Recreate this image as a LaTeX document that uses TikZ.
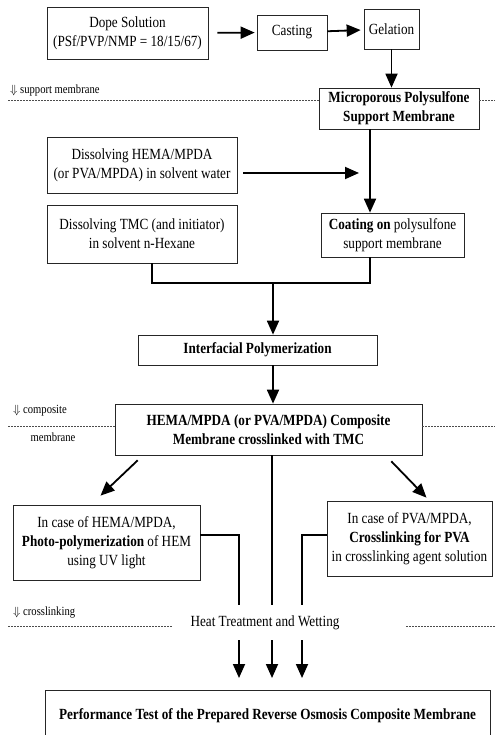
\documentclass[tikz,border=0pt]{standalone}
\usepackage{fontspec}
\setmainfont{Liberation Serif}[FakeStretch=0.85]
\usetikzlibrary{arrows.meta, positioning, calc}

\begin{document}
\begin{tikzpicture}[x=1pt, y=-1pt,
  box/.style={draw=black!85, line width=0.7pt, align=center, inner sep=2pt, font=\fontsize{15.5}{19}\selectfont},
  boldbox/.style={box, font=\fontsize{15.5}{19}\selectfont\bfseries},
  arr/.style={-{Triangle[length=14pt,width=12pt]}, line width=1.8pt},
  link/.style={line width=1.8pt},
  sep/.style={draw=black!70, line width=0.6pt, dash pattern=on 2pt off 1pt},
  stage/.style={font=\fontsize{12.5}{14}\selectfont, inner sep=0pt}
]
\useasboundingbox (0,0) rectangle (498,735);

% Support membrane row
\node[box, minimum width=161, minimum height=52] (DS) at (127.5,33) {Dope Solution\\(PSf/PVP/NMP = 18/15/67)};
\node[box, minimum width=70, minimum height=35]  (CA) at (292,32.5) {Casting};
\node[box, minimum width=55, minimum height=40]  (GE) at (391.5,29) {Gelation};
\node[boldbox, minimum width=160, minimum height=41] (MS) at (399,108.5) {Microporous Polysulfone\\Support Membrane};

\draw[arr, shorten <=9pt, shorten >=2pt] (DS) -- (CA);
\draw[arr, shorten >=3pt] (CA) -- (GE);
\draw[arr] (GE.south) -- (GE.south |- MS.north);

% Coating
\coordinate (jx) at (370,0);
\coordinate (jm) at (273,283);
\node[box, minimum width=190, minimum height=56] (HM) at (142,165) {Dissolving HEMA/MPDA\\(or PVA/MPDA) in solvent water};
\node[box, minimum width=190, minimum height=58] (TM) at (142,234) {Dissolving TMC (and initiator)\\in solvent n-Hexane};
\node[box, minimum width=143, minimum height=44] (CO) at (392.5,235) {\textbf{Coating on} polysulfone\\support membrane};

\draw[arr] (MS.south -| jx) -- (CO.north -| jx);
\draw[arr] ([shift={(6,8)}]HM.east) -- ([shift={(-11,8)}]HM.east -| jx);
\draw[link] ([xshift=10pt]TM.south) |- (jm) -| (CO.south -| jx);

% Composite membrane
\node[boldbox, minimum width=239, minimum height=30] (IP) at (257.5,350) {Interfacial Polymerization};
\node[boldbox, minimum width=307, minimum height=51] (CM) at (268.5,429.5) {HEMA/MPDA (or PVA/MPDA) Composite\\Membrane crosslinked with TMC};

\draw[arr] (jm) -- (IP.north -| jm);
\draw[arr] (IP.south -| jm) -- (CM.north -| jm);

% Crosslinking
\node[box, minimum width=187, minimum height=75] (LB) at (106.5,542.5) {In case of HEMA/MPDA,\\\textbf{Photo-polymerization} of HEM\\using UV light};
\node[box, minimum width=165, minimum height=75] (RB) at (409.5,538.5) {In case of PVA/MPDA,\\\textbf{Crosslinking for PVA}\\in crosslinking agent solution};

\draw[arr] ([shift={(23,5)}]CM.south west) -- ([shift={(-6,-9)}]LB.north);
\draw[arr] ([shift={(-31,6)}]CM.south east) -- ([shift={(17,-3)}]RB.north);

\node[font=\fontsize{15.5}{19}\selectfont, inner sep=1pt] (HT) at (265,623) {Heat Treatment and Wetting};
\coordinate (t1) at (239,605);
\coordinate (t2) at (272,605);
\coordinate (t3) at (302,605);
\coordinate (b1) at (239,640);
\coordinate (b2) at (272,640);
\coordinate (b3) at (302,640);

\draw[link] ([shift={(0,30)}]LB.north east) -| (t1);
\draw[link] (CM.south -| t2) -- (t2);
\draw[link] ([shift={(0,34)}]RB.north west) -| (t3);

% Performance test
\node[boldbox, anchor=north, minimum width=445, minimum height=50] (PT) at (267.5,690) {Performance Test of the Prepared Reverse Osmosis Composite Membrane};

\draw[arr] (b1) -- ([yshift=12pt]PT.north -| b1);
\draw[arr] (b2) -- ([yshift=12pt]PT.north -| b2);
\draw[arr] (b3) -- ([yshift=12pt]PT.north -| b3);

% Stage labels and separators
\node[stage, anchor=west] (L1) at (10,90) {$\Downarrow$ support membrane};
\node[stage, anchor=west] (L2) at (13,411) {$\Downarrow$ composite};
\node[stage] (L2b) at (53,437) {membrane};
\node[stage, anchor=west] (L3) at (13,613) {$\Downarrow$ crosslinking};

\draw[sep] (8,100) -- (MS.west |- 0,100);
\draw[sep] (MS.east |- 0,100) -- (495,100);
\draw[sep] (8,426) -- (CM.west |- 0,426);
\draw[sep] (CM.east |- 0,426) -- (495,426);
\draw[sep] (8,626) -- (172,626);
\draw[sep] (406,626) -- (495,626);

\end{tikzpicture}
\end{document}
